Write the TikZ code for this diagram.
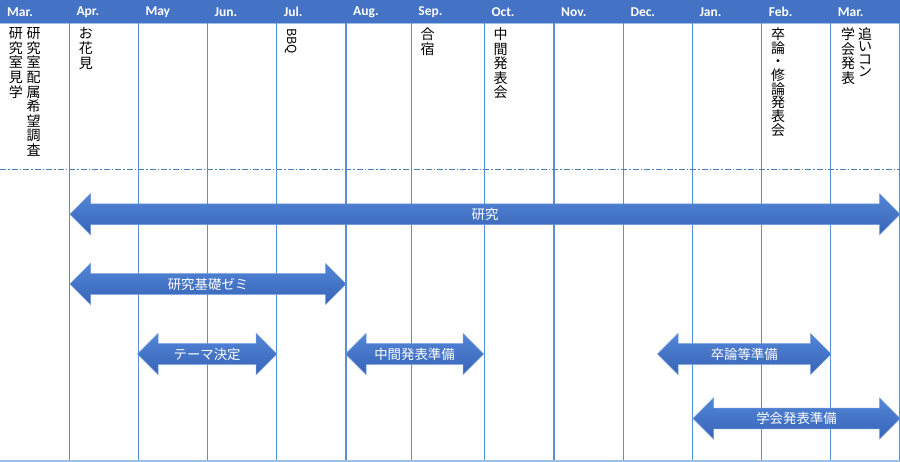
\documentclass[tikz,border=0pt]{standalone}
\usepackage{fontspec}
\setmainfont{Carlito}
\newfontfamily\jp{Noto Sans CJK JP}
\definecolor{hdr}{HTML}{4472C4}
\definecolor{vline}{HTML}{5690D4}
\definecolor{lightl}{HTML}{9CBFE6}
\definecolor{dashc}{HTML}{4A7EC0}
\definecolor{arrtop}{HTML}{5385D6}
\definecolor{arrbot}{HTML}{3764B8}
\definecolor{arredge}{HTML}{6E98DA}
\tikzset{
  month/.style={anchor=west, text=white, font=\fontsize{13.5}{15}\selectfont\bfseries, inner sep=0pt},
  evtext/.style={anchor=north, align=center, inner sep=0pt, font=\jp\fontsize{14}{14.6}\selectfont},
  arrowtext/.style={text=white, inner sep=0pt, font=\jp\fontsize{13.4}{15}\selectfont},
  arrowfill/.style={top color=arrtop, bottom color=arrbot, draw=arredge, line width=0.5pt},
  gridline/.style={draw=vline, line width=1.2pt},
}
\newcommand\dblarr[5]{%
  \path[arrowfill] (#1,#3) -- (#1+20.5,#3-20.5) -- (#1+20.5,#3-10.3) -- (#2-20.5,#3-10.3) -- (#2-20.5,#3-20.5) -- (#2,#3) -- (#2-20.5,#3+20.5) -- (#2-20.5,#3+10.3) -- (#1+20.5,#3+10.3) -- (#1+20.5,#3+20.5) -- cycle;
  \node[arrowtext] (#4) at ({(#1+#2)/2},#3) {#5};
}
\begin{document}
\begin{tikzpicture}[x=1pt,y=-1pt]
\useasboundingbox (0,0) rectangle (900,462);
% header
\fill[hdr] (0,0) rectangle (900,23);
\draw[lightl, line width=1pt] (0,23.5) -- (900,23.5);
% vertical grid lines
\foreach \x in {69.3,138.3,207.5,276.7,346,411.2,484.3,554,623.3,692.3,761.7,830.7,899.2}
  \draw[gridline] (\x,23.5) -- (\x,461);
% bottom line
\draw[lightl, line width=1.4pt] (0,461) -- (900,461);
% dash-dot separator
\draw[dashc, line width=1pt, dash pattern=on 6pt off 2pt on 1.5pt off 2pt] (0,169.5) -- (900,169.5);
% month labels
\node[month] (m1) at (7,12) {Mar.};
\node[month] (m2) at (76.3,12) {Apr.};
\node[month] (m3) at (145.3,12) {May};
\node[month] (m4) at (214.5,12) {Jun.};
\node[month] (m5) at (283.7,12) {Jul.};
\node[month] (m6) at (353,12) {Aug.};
\node[month] (m7) at (418.2,12) {Sep.};
\node[month] (m8) at (491.3,12) {Oct.};
\node[month] (m9) at (561,12) {Nov.};
\node[month] (m10) at (630.3,12) {Dec.};
\node[month] (m11) at (699.3,12) {Jan.};
\node[month] (m12) at (768.7,12) {Feb.};
\node[month] (m13) at (837.7,12) {Mar.};
% events (vertical text)
\node[evtext] (e1) at (16,27.5) {研\\究\\室\\見\\学};
\node[evtext] (e2) at (33.7,27.5) {研\\究\\室\\配\\属\\希\\望\\調\\査};
\node[evtext] (e3) at (85.8,27.5) {お\\花\\見};
\node[evtext, rotate=-90, anchor=west, font=\jp\fontsize{12.5}{14}\selectfont] (e4) at (291,28) {BBQ};
\node[evtext] (e5) at (427.7,27.5) {合\\宿};
\node[evtext] (e6) at (500.7,27.5) {中\\間\\発\\表\\会};
\node[evtext, font=\jp\fontsize{14}{13.7}\selectfont] (e7) at (778,27.5) {卒\\論\\・\\修\\論\\発\\表\\会};
\node[evtext] (e8) at (848,27.5) {学\\会\\発\\表};
\node[evtext, font=\jp\fontsize{14}{12.3}\selectfont] (e9) at (865,27.5) {追\\い\\コ\\ン};
% arrows
\dblarr{70}{900}{214.3}{a1}{研究}
\dblarr{70}{346}{284}{a2}{研究基礎ゼミ}
\dblarr{137.5}{276.7}{354}{a3}{テーマ決定}
\dblarr{345.5}{483.5}{354}{a4}{中間発表準備}
\dblarr{657.5}{831}{354}{a5}{卒論等準備}
\dblarr{693}{900}{418.5}{a6}{学会発表準備}
\end{tikzpicture}
\end{document}
